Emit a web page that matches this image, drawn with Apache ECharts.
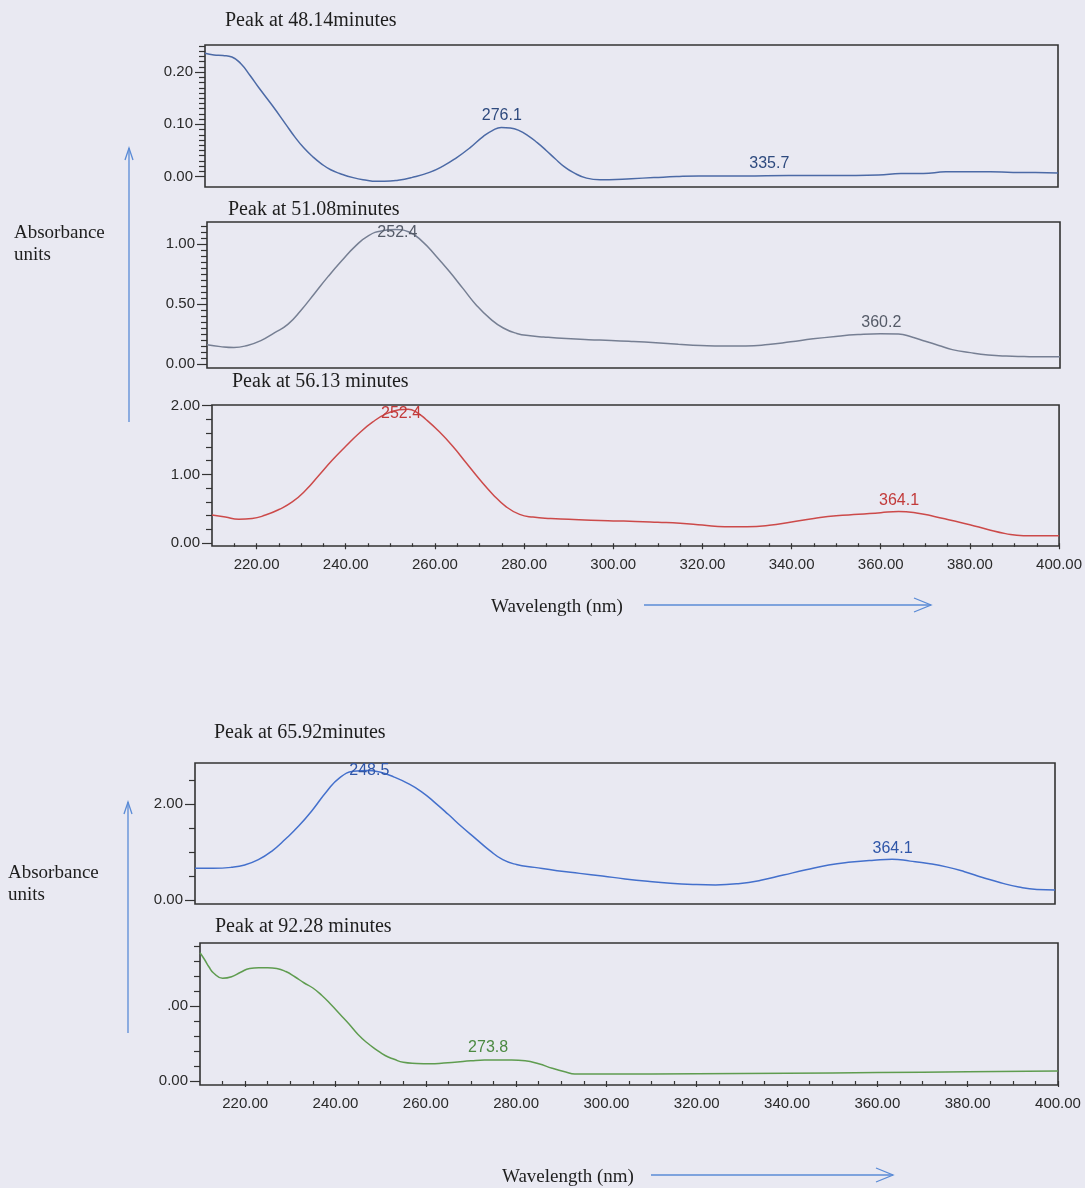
<!DOCTYPE html>
<html><head><meta charset="utf-8">
<script src="https://cdn.jsdelivr.net/npm/echarts@6/dist/echarts.min.js"></script>
<style>html,body{margin:0;padding:0;background:#e9e9f2}#c{width:1085px;height:1188px}</style>
</head><body><div id="c"></div><script>
// ---- Data ----
const titles = ['Peak at 48.14minutes','Peak at 51.08minutes','Peak at 56.13 minutes','Peak at 65.92minutes','Peak at 92.28 minutes'];
const xTickLabels = [220,240,260,280,300,320,340,360,380,400];

const wl1 = [210,212,214,216,218,220,222,225,228,230,232,234,236,238,240,243,246,248,250,253,256,260,263,266,269,272,274,276,278,280,282,284,286,288,290,292,295,298,300,305,310,315,320,330,340,350,360,365,370,375,380,385,390,395,400];
const abs1 = [0.236,0.233,0.232,0.229,0.216,0.194,0.170,0.136,0.100,0.076,0.055,0.038,0.024,0.013,0.006,-0.002,-0.007,-0.009,-0.009,-0.007,-0.002,0.008,0.020,0.036,0.055,0.077,0.088,0.094,0.093,0.088,0.078,0.065,0.050,0.034,0.019,0.008,-0.003,-0.006,-0.006,-0.004,-0.002,0.000,0.001,0.001,0.002,0.002,0.003,0.006,0.006,0.009,0.009,0.009,0.008,0.008,0.007];
const peaks1 = [[276.1,0.095],[335.7,0.002]];

const wl2 = [210,213,216,219,222,225,228,231,234,237,240,243,246,249,252,255,258,261,264,267,270,273,276,279,282,285,290,295,300,305,310,315,320,325,330,335,340,345,350,355,360,364,367,370,373,376,380,384,388,392,396,400];
const abs2 = [0.160,0.145,0.138,0.155,0.195,0.26,0.33,0.45,0.59,0.73,0.86,0.98,1.07,1.11,1.12,1.10,1.02,0.90,0.77,0.63,0.49,0.38,0.30,0.255,0.235,0.225,0.212,0.203,0.197,0.188,0.177,0.165,0.155,0.150,0.150,0.162,0.185,0.210,0.230,0.245,0.252,0.250,0.225,0.190,0.155,0.12,0.095,0.076,0.066,0.062,0.060,0.060];
const peaks2 = [[252.4,1.12],[360.2,0.252]];

const wl3 = [210,213,216,219,222,225,228,231,234,237,240,243,246,249,252,254,256,258,261,264,267,270,273,276,279,282,286,290,295,300,305,310,315,320,325,330,335,340,345,350,355,360,364,368,372,376,380,384,388,392,396,400];
const abs3 = [0.41,0.38,0.35,0.36,0.41,0.49,0.60,0.77,0.99,1.21,1.41,1.60,1.76,1.88,1.94,1.95,1.90,1.80,1.62,1.41,1.17,0.93,0.71,0.53,0.42,0.38,0.36,0.35,0.335,0.325,0.318,0.305,0.29,0.265,0.24,0.24,0.26,0.31,0.36,0.40,0.42,0.445,0.46,0.44,0.39,0.33,0.27,0.20,0.14,0.11,0.11,0.11];
const peaks3 = [[252.4,1.95],[364.1,0.46]];

const wl4 = [210,214,218,221,224,227,230,233,236,239,242,245,248,251,254,257,260,263,266,269,272,275,278,281,285,290,295,300,305,310,315,320,325,330,335,340,345,350,355,360,364,368,372,376,380,384,388,392,396,400];
const abs4 = [0.66,0.66,0.68,0.73,0.84,1.02,1.27,1.55,1.88,2.25,2.55,2.68,2.70,2.66,2.56,2.43,2.26,2.03,1.78,1.52,1.28,1.04,0.84,0.74,0.68,0.61,0.555,0.50,0.44,0.39,0.35,0.325,0.315,0.34,0.41,0.52,0.63,0.73,0.79,0.83,0.85,0.81,0.76,0.69,0.59,0.47,0.36,0.27,0.22,0.21];
const peaks4 = [[248.5,2.70],[364.1,0.85]];

const wl5 = [210,211,212,213,215,217,219,221,223,225,227,229,231,233,235,237,239,241,243,245,247,249,251,253,255,258,261,264,267,270,273,276,279,282,285,288,291,293,296,300,320,340,360,380,400];
const abs5 = [1.71,1.62,1.52,1.44,1.37,1.39,1.45,1.50,1.51,1.51,1.50,1.46,1.39,1.31,1.24,1.14,1.02,0.89,0.76,0.62,0.51,0.42,0.34,0.29,0.25,0.235,0.23,0.24,0.255,0.27,0.28,0.28,0.28,0.27,0.23,0.17,0.12,0.095,0.092,0.093,0.097,0.103,0.113,0.123,0.133];
const peaks5 = [[273.8,0.28]];

// ---- Layout / styles ----
const SANS = "'Liberation Sans', Arial, sans-serif";
const SERIF = "'Liberation Serif', 'Times New Roman', serif";
const panels = [
  {wl:wl1, abs:abs1, peaks:peaks1, left:205, top:45, width:853, height:142, ymin:-0.02, ymax:0.252, yLab:[0,0.1,0.2], step:0.01, showX:false, color:'#4c6aa6', lc:'#2e4a7e', offs:[-11,-12]},
  {wl:wl2, abs:abs2, peaks:peaks2, left:207, top:222, width:853, height:146, ymin:-0.033, ymax:1.183, yLab:[0,0.5,1.0], step:0.05, showX:false, color:'#767f93', lc:'#555b68', offs:[3,-11]},
  {wl:wl3, abs:abs3, peaks:peaks3, left:212, top:405, width:851, height:141, ymin:-0.04, ymax:2.01, yLab:[0,1,2], step:0.2, showX:true, color:'#cc4a4a', lc:'#c23a3a', offs:[4,-11]},
  {wl:wl4, abs:abs4, peaks:peaks4, left:195, top:763, width:860, height:141, ymin:-0.083, ymax:2.854, yLab:[0,2], step:0.5, showX:false, color:'#4470cc', lc:'#2f56a8', offs:[0,-11]},
  {wl:wl5, abs:abs5, peaks:peaks5, left:200, top:943, width:858, height:142, ymin:-0.053, ymax:1.84, yLab:[0,1], step:0.2, showX:true, color:'#5f9c50', lc:'#4c8a42', offs:[-12]}
];
const titlePos = [[225,21],[228,210],[232,382],[214,733],[215,927]];

const grid=[], xAxis=[], yAxis=[], series=[];
const AX = '#333333';
panels.forEach((p,i)=>{
  grid.push({left:p.left, top:p.top, width:p.width, height:p.height, show:true, borderColor:AX, borderWidth:1.6, backgroundColor:'transparent'});
  const xi = xAxis.length;
  xAxis.push({type:'value', gridIndex:i, min:210, max:400, position:'bottom', show:p.showX,
    splitLine:{show:false}, axisLine:{show:false},
    axisTick:{show:true, customValues:xTickLabels, length:6, lineStyle:{color:AX, width:1.2}},
    axisLabel:{show:true, customValues:xTickLabels, margin:11, fontSize:15, fontFamily:SANS, color:'#2a2a2a', formatter:v=>v.toFixed(2)}});
  if (p.showX) {
    const mx=[]; for(let v=215; v<400; v+=5){ if(v%20!==0) mx.push(v); }
    xAxis.push({type:'value', gridIndex:i, min:210, max:400, position:'bottom',
      splitLine:{show:false}, axisLine:{show:false}, axisLabel:{show:false},
      axisTick:{show:true, customValues:mx, length:3.5, lineStyle:{color:AX, width:1.2}}});
  }
  const yi = yAxis.length;
  yAxis.push({type:'value', gridIndex:i, min:p.ymin, max:p.ymax, position:'left',
    splitLine:{show:false}, axisLine:{show:false},
    axisTick:{show:true, customValues:p.yLab, length:10, lineStyle:{color:AX, width:1.2}},
    axisLabel:{show:true, customValues:p.yLab, margin:12, fontSize:15, fontFamily:SANS, color:'#2a2a2a',
      formatter:v=> (i===4 && Math.abs(v-1)<1e-9) ? '.00' : v.toFixed(2)}});
  const my=[]; const n=Math.floor(p.ymax/p.step+1e-6);
  for(let k=1;k<=n;k++){ const v=k*p.step; if(!p.yLab.some(l=>Math.abs(l-v)<1e-9)) my.push(+v.toFixed(4)); }
  yAxis.push({type:'value', gridIndex:i, min:p.ymin, max:p.ymax, position:'left',
    splitLine:{show:false}, axisLine:{show:false}, axisLabel:{show:false},
    axisTick:{show:true, customValues:my, length:6, lineStyle:{color:AX, width:1.2}}});
  series.push({type:'line', xAxisIndex:xi, yAxisIndex:yi, showSymbol:false, smooth:0.5,
    lineStyle:{color:p.color, width:1.5}, data:p.wl.map((w,k)=>[w,p.abs[k]]),
    markPoint:{symbol:'circle', symbolSize:0, silent:true, animation:false,
      label:{show:true, position:'inside', color:p.lc, fontSize:16, fontFamily:SANS, formatter:q=>q.data.coord[0].toFixed(1)},
      data:p.peaks.map((c,k)=>({coord:c, label:{offset:[0,p.offs[k]]}}))}});
});

const BLUE = '#5a8bd6';
function arrowV(x,y1,y2){ return [
  {type:'line', shape:{x1:x,y1:y1,x2:x,y2:y2}, style:{stroke:BLUE, lineWidth:1.3}},
  {type:'polyline', shape:{points:[[x-4,y2+12],[x,y2],[x+4,y2+12]]}, style:{stroke:BLUE, lineWidth:1.3, fill:null}}]; }
function arrowH(y,x1,x2){ return [
  {type:'line', shape:{x1:x1,y1:y,x2:x2,y2:y}, style:{stroke:BLUE, lineWidth:1.3}},
  {type:'polyline', shape:{points:[[x2-17,y-7],[x2,y],[x2-17,y+7]]}, style:{stroke:BLUE, lineWidth:1.3, fill:null}}]; }
function txt(x,y,s,size){ return {type:'text', x:x, y:y, style:{text:s, fill:'#1e1e1e', font:size+'px '+SERIF, textVerticalAlign:'middle'}}; }

const graphic = [];
titles.forEach((t,i)=>graphic.push(txt(titlePos[i][0], titlePos[i][1], t, 20)));
graphic.push(txt(14,233,'Absorbance',19), txt(14,255,'units',19));
graphic.push(txt(8,873,'Absorbance',19), txt(8,895,'units',19));
graphic.push(txt(491,607,'Wavelength (nm)',19), txt(502,1177,'Wavelength (nm)',19));
graphic.push(...arrowV(129,422,148), ...arrowV(128,1033,802), ...arrowH(605,644,931), ...arrowH(1175,651,893));

const chart = echarts.init(document.getElementById('c'), null, {renderer:'canvas'});
chart.setOption({backgroundColor:'#e9e9f2', animation:false, grid, xAxis, yAxis, series, graphic});
</script></body></html>
